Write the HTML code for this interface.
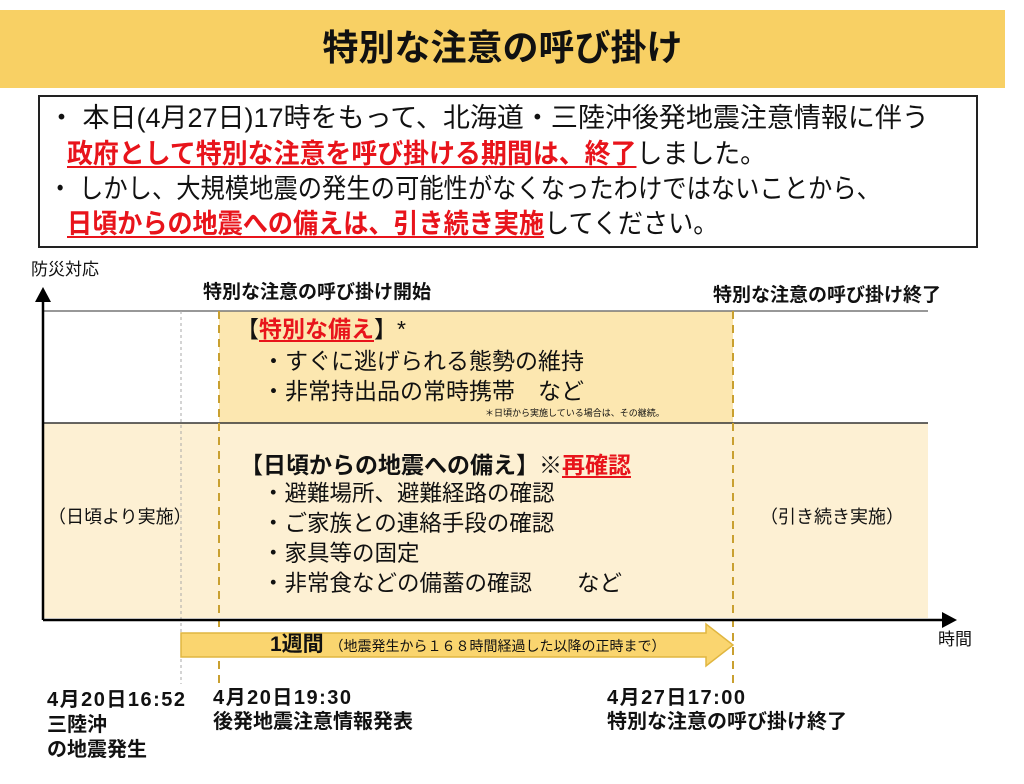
<!DOCTYPE html>
<html><head><meta charset="utf-8"><style>
body{margin:0;width:1024px;height:784px;background:#fff;position:relative;overflow:hidden;font-family:"Liberation Sans","Noto Sans CJK JP",sans-serif;color:#111}
.t{position:absolute;white-space:nowrap;transform-origin:left top;line-height:1}
.r{color:#e8141b;font-weight:bold;text-decoration:underline;text-decoration-thickness:2px;text-underline-offset:3px}
.b{font-weight:bold}
</style></head><body>
<div style="position:absolute;left:0;top:10px;width:1005px;height:78px;background:#f8d064"></div>
<div class="t b" style="left:0;width:1005px;text-align:center;top:30px;font-size:36px">特別な注意の呼び掛け</div>
<div style="position:absolute;left:38px;top:95px;width:936px;height:149px;border:2px solid #222"></div>
<div class="t" style="left:48px;top:105px;font-size:27px;transform:scaleX(1.0)">・ 本日(4月27日)17時をもって、北海道・三陸沖後発地震注意情報に伴う</div>
<div class="t" style="left:67px;top:141px;font-size:27px;transform:scaleX(0.96)"><span class="r">政府として特別な注意を呼び掛ける期間は、終了</span>しました。</div>
<div class="t" style="left:48px;top:176px;font-size:27px;transform:scaleX(0.9)">・ しかし、大規模地震の発生の可能性がなくなったわけではないことから、</div>
<div class="t" style="left:67px;top:211px;font-size:27px;transform:scaleX(0.93)"><span class="r">日頃からの地震への備えは、引き続き実施</span>してください。</div>

<div class="t" style="left:31px;top:261px;font-size:17px">防災対応</div>
<div class="t b" style="left:203px;top:283px;font-size:19px">特別な注意の呼び掛け開始</div>
<div class="t b" style="left:713px;top:286px;font-size:19px">特別な注意の呼び掛け終了</div>

<svg style="position:absolute;left:0;top:0" width="1024" height="784">
<rect x="43" y="423" width="885" height="195" fill="#fdf0d3"/>
<rect x="219" y="311" width="514" height="112" fill="#fce7b0"/>
<line x1="43" y1="311" x2="928" y2="311" stroke="#777" stroke-width="1.5"/>
<line x1="43" y1="423" x2="928" y2="423" stroke="#333" stroke-width="1.5"/>
<line x1="181" y1="311" x2="181" y2="684" stroke="#aaa" stroke-width="1" stroke-dasharray="3,3"/>
<line x1="219" y1="311" x2="219" y2="686" stroke="#c9a030" stroke-width="2" stroke-dasharray="8,6"/>
<line x1="733" y1="311" x2="733" y2="686" stroke="#c9a030" stroke-width="2" stroke-dasharray="8,6"/>
<line x1="43" y1="620" x2="945" y2="620" stroke="#000" stroke-width="2.5"/>
<polygon points="957,620 942,612 942,628" fill="#000"/>
<line x1="43" y1="620" x2="43" y2="300" stroke="#000" stroke-width="2.5"/>
<polygon points="43,287 35,302 51,302" fill="#000"/>
<polygon points="181,633 706,633 706,624 733,645 706,666 706,657 181,657" fill="#fad56f" stroke="#e0b640" stroke-width="1.5"/>
</svg>

<div class="t" style="left:236px;top:318px;font-size:23px">【<span class="r">特別な備え</span>】*</div>
<div class="t" style="left:262px;top:350px;font-size:23px">・すぐに逃げられる態勢の維持</div>
<div class="t" style="left:262px;top:380px;font-size:23px">・非常持出品の常時携帯　など</div>
<div class="t" style="left:485px;top:409px;font-size:9px">＊日頃から実施している場合は、その継続。</div>

<div class="t b" style="left:240px;top:454px;font-size:23px">【日頃からの地震への備え】※<span class="r">再確認</span></div>
<div class="t" style="left:262px;top:483px;font-size:22.5px">・避難場所、避難経路の確認</div>
<div class="t" style="left:262px;top:513px;font-size:22.5px">・ご家族との連絡手段の確認</div>
<div class="t" style="left:262px;top:543px;font-size:22.5px">・家具等の固定</div>
<div class="t" style="left:262px;top:573px;font-size:22.5px">・非常食などの備蓄の確認　　など</div>
<div class="t" style="left:48px;top:508px;font-size:18px">（日頃より実施）</div>
<div class="t" style="left:760px;top:508px;font-size:18px">（引き続き実施）</div>

<div class="t" style="left:270px;top:634px;font-size:21px"><span class="b">1週間</span> <span style="font-size:14px">（地震発生から１６８時間経過した以降の正時まで）</span></div>
<div class="t" style="left:938px;top:631px;font-size:17px">時間</div>

<div class="t b" style="left:47px;top:688px;font-size:20px;line-height:25px"><span style="letter-spacing:1.5px">4月20日16:52</span><br>三陸沖<br>の地震発生</div>
<div class="t b" style="left:213px;top:686px;font-size:20px;line-height:24px"><span style="letter-spacing:1.5px">4月20日19:30</span><br>後発地震注意情報発表</div>
<div class="t b" style="left:607px;top:686px;font-size:20px;line-height:24px"><span style="letter-spacing:1.5px">4月27日17:00</span><br>特別な注意の呼び掛け終了</div>
</body></html>
